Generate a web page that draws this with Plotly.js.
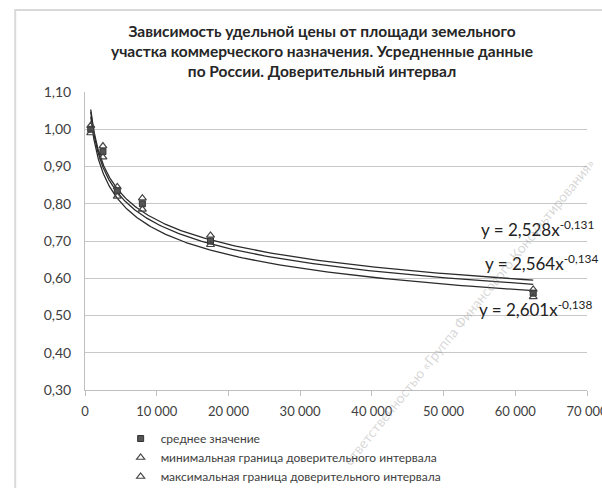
<!DOCTYPE html>
<html><head><meta charset="utf-8">
<script src="https://cdn.plot.ly/plotly-3.0.1.min.js"></script>
<style>html,body{margin:0;padding:0;background:#fff}#chart{width:602px;height:488px}</style>
</head><body><div id="chart"></div>
<script>
// Data
const areas = [800, 2500, 4500, 8000, 17500, 62500];
const meanVals = [1.00, 0.94, 0.835, 0.80, 0.70, 0.56];
const minVals = [0.99, 0.925, 0.82, 0.785, 0.69, 0.55];
const maxVals = [1.01, 0.955, 0.845, 0.815, 0.715, 0.57];
const seriesNames = ['среднее значение', 'минимальная граница доверительного интервала', 'максимальная граница доверительного интервала'];
// Trendline coefficients y = a * x^b (from the labels)
const trendA = [2.528, 2.564, 2.601];
const trendB = [-0.131, -0.134, -0.138];
const trendLabels = ['y = 2,528x<sup>-0,131</sup>', 'y = 2,564x<sup>-0,134</sup>', 'y = 2,601x<sup>-0,138</sup>'];
const xTicks = [0, 10000, 20000, 30000, 40000, 50000, 60000, 70000];
const yTicks = [0.3, 0.4, 0.5, 0.6, 0.7, 0.8, 0.9, 1.0, 1.1];

const font = 'Lato, "Open Sans", sans-serif';
const traces = [];
const xMin = areas[0], xMax = areas[areas.length - 1];
const xs = [];
for (let i = 0; i <= 200; i++) xs.push(xMin * Math.pow(xMax / xMin, i / 200));
for (let k = 0; k < 3; k++) {
  traces.push({x: xs, y: xs.map(v => trendA[k] * Math.pow(v, trendB[k])), mode: 'lines',
    line: {color: '#2b2b2b', width: 1.3}, showlegend: false, hoverinfo: 'skip'});
}
traces.push({x: areas, y: meanVals, mode: 'markers', name: seriesNames[0],
  marker: {symbol: 'square', size: 6, color: '#555', line: {color: '#333', width: 1}}});
traces.push({x: areas, y: minVals, mode: 'markers', name: seriesNames[1],
  marker: {symbol: 'triangle-up-open', size: 7, color: '#444', line: {width: 1.2}}});
traces.push({x: areas, y: maxVals, mode: 'markers', name: seriesNames[2],
  marker: {symbol: 'triangle-up-open', size: 7, color: '#444', line: {width: 1.2}}});

const labelPix = [[596, 228], [600, 262], [594, 308]];
const annotations = trendLabels.map((t, i) => ({
  text: t, xref: 'paper', yref: 'paper',
  x: (labelPix[i][0] - 85) / 502, y: (390 - labelPix[i][1]) / 298,
  xanchor: 'right', yanchor: 'middle', yshift: 0,
  showarrow: false, font: {family: font, size: 17, color: '#222'}
}));
annotations.push({
  text: 'ответственностью «Группа Финансового Консультирования»', xref: 'paper', yref: 'paper',
  x: (468 - 85) / 502, y: (390 - 312) / 298, xanchor: 'center', yanchor: 'middle', showarrow: false, textangle: -51,
  font: {family: font, size: 14, color: 'rgba(140,140,140,0.35)'}
});

const layout = {
  width: 602, height: 488,
  margin: {l: 85, r: 15, t: 92, b: 98},
  paper_bgcolor: '#fff', plot_bgcolor: '#fff',
  separators: ', ',
  font: {family: font, size: 12, color: '#595959'},
  title: {text: '<b>Зависимость удельной цены от площади земельного<br>участка коммерческого назначения. Усредненные данные<br>по России. Доверительный интервал</b>',
    x: 0.535, xref: 'container', xanchor: 'center', y: 0.924, yref: 'container', yanchor: 'top',
    font: {family: font, size: 15.5, color: '#262626'}},
  xaxis: {range: [0, 70000], tickvals: xTicks, tickformat: ',d', showgrid: false, zeroline: false,
    showline: true, linecolor: '#bfbfbf', linewidth: 1, ticks: 'outside', ticklen: 5, tickcolor: '#bfbfbf',
    ticklabeloverflow: 'allow', ticklabelstandoff: 4, automargin: false,
    tickfont: {family: font, size: 13, color: '#404040'}},
  yaxis: {range: [0.3, 1.1], tickvals: yTicks, tickformat: '.2f', showgrid: true, gridcolor: '#c8c8c8', gridwidth: 1,
    zeroline: false, showline: true, linecolor: '#bfbfbf', ticks: '', ticklabelstandoff: 10, automargin: false,
    tickfont: {family: font, size: 14, color: '#404040'}},
  legend: {orientation: 'v', x: 0.071, xanchor: 'left', yref: 'container', y: 1 - 424 / 488, yanchor: 'top',
    font: {family: font, size: 12, color: '#404040'}, tracegroupgap: 0, bgcolor: 'rgba(0,0,0,0)'},
  annotations: annotations,
  shapes: [{type: 'rect', xref: 'paper', yref: 'paper', x0: -0.139, x1: 1.2, y0: -0.6, y1: 1.275,
    line: {color: '#d9d9d9', width: 2}, layer: 'below'}]
};
Plotly.newPlot('chart', traces, layout, {displayModeBar: false, staticPlot: true});
</script></body></html>
